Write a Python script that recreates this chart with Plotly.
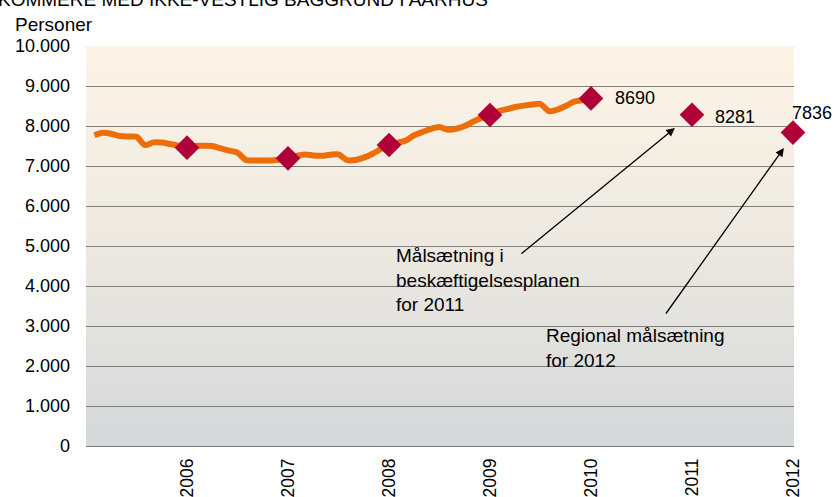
import plotly.graph_objects as go

# ---------------- data ----------------
start_year = 2005
month_index = list(range(1, 61))  # Jan 2005 .. Dec 2009 (monthly)
persons = [7770, 7830, 7805, 7750, 7735, 7730, 7525, 7590, 7585, 7550, 7510, 7458,
           7500, 7505, 7500, 7440, 7385, 7335, 7150, 7140, 7135, 7140, 7155, 7192,
           7250, 7290, 7265, 7255, 7280, 7290, 7150, 7150, 7210, 7300, 7420, 7525,
           7580, 7640, 7770, 7850, 7930, 7975, 7905, 7930, 8000, 8110, 8200, 8275,
           8370, 8420, 8475, 8510, 8535, 8550, 8370, 8410, 8500, 8610, 8650, 8690]

marker_years = [2006, 2007, 2008, 2009, 2010, 2011, 2012]
marker_values = [7458, 7192, 7525, 8275, 8690, 8281, 7836]

label_years = [2010, 2011, 2012]
label_values = [8690, 8281, 7836]

tick_years = [2006, 2007, 2008, 2009, 2010, 2011, 2012]
tick_labels = [str(y) for y in tick_years]

y_ticks = list(range(0, 10001, 1000))

title_text = "KOMMERE MED IKKE-VESTLIG BAGGRUND I AARHUS"
note_2011 = "Målsætning i<br>beskæftigelsesplanen<br>for 2011"
note_2012 = "Regional målsætning<br>for 2012"

line_x = [start_year + m / 12 for m in month_index]

FONT = "Liberation Sans, Arial, sans-serif"

fig = go.Figure()

fig.add_trace(go.Scatter(
    x=line_x, y=persons, mode="lines",
    line=dict(color="#EE6D0B", width=6, shape="spline", smoothing=0.8),
    hoverinfo="skip", showlegend=False))

fig.add_trace(go.Scatter(
    x=marker_years, y=marker_values, mode="markers",
    marker=dict(symbol="diamond", size=19, color="#B0003A"),
    cliponaxis=False, showlegend=False))

# ---------------- background gradient ----------------
def lerp(c1, c2, t):
    return tuple(round(a + (b - a) * t) for a, b in zip(c1, c2))

stops = [(0.0, (212, 216, 218)), (0.5, (237, 233, 225)), (1.0, (253, 244, 230))]
def grad(t):
    for (t0, c0), (t1, c1) in zip(stops[:-1], stops[1:]):
        if t <= t1:
            return lerp(c0, c1, (t - t0) / (t1 - t0))
    return stops[-1][1]

shapes = []
n = 100
for i in range(n):
    y0 = 10000 * i / n
    y1 = 10000 * (i + 1) / n
    c = grad((i + 0.5) / n)
    shapes.append(dict(type="rect", xref="paper", yref="y", x0=0, x1=1, y0=y0, y1=y1,
                       fillcolor="rgb(%d,%d,%d)" % c, line=dict(width=0), layer="below"))

annotations = []
# data labels
annotations.append(dict(x=label_years[0], y=label_values[0], text=str(label_values[0]),
                        xanchor="left", yanchor="middle", xshift=22, showarrow=False))
annotations.append(dict(x=label_years[1], y=label_values[1], text=str(label_values[1]),
                        xanchor="left", yanchor="middle", xshift=21, yshift=-2, showarrow=False))
annotations.append(dict(x=label_years[2], y=label_values[2], text=str(label_values[2]),
                        xanchor="left", yanchor="middle", xshift=-3, yshift=20, showarrow=False))

# arrows
annotations.append(dict(x=2010.83, y=7950, text="", showarrow=True, arrowhead=2,
                        arrowsize=1.3, arrowwidth=1.3, arrowcolor="black",
                        ax=-155, ay=127, standoff=0, startstandoff=0))
annotations.append(dict(x=2011.91, y=7450, text="", showarrow=True, arrowhead=2,
                        arrowsize=1.3, arrowwidth=1.3, arrowcolor="black",
                        ax=-119, ay=167, standoff=0, startstandoff=0))

# notes
annotations.append(dict(x=(394 - 86) / 708, y=(446 - 280) / 400, xref="paper", yref="paper",
                        text=note_2011, align="left", xanchor="left", yanchor="middle",
                        font=dict(size=19), showarrow=False))
annotations.append(dict(x=(544 - 86) / 708, y=(446 - 348) / 400, xref="paper", yref="paper",
                        text=note_2012, align="left", xanchor="left", yanchor="middle",
                        font=dict(size=19), showarrow=False))

# title (cut off at top) and axis unit
annotations.append(dict(x=(-4 - 86) / 708, y=(446 + 1) / 400, xref="paper", yref="paper",
                        text=title_text, xanchor="left", yanchor="middle",
                        font=dict(size=19), showarrow=False))
annotations.append(dict(x=(13 - 86) / 708, y=(446 - 24) / 400, xref="paper", yref="paper",
                        text="Personer", xanchor="left", yanchor="middle",
                        font=dict(size=19), showarrow=False))

fig.update_layout(
    width=834, height=497,
    margin=dict(l=86, r=40, t=46, b=51, autoexpand=False),
    paper_bgcolor="white", plot_bgcolor="white",
    font=dict(family=FONT, size=18, color="black"),
    separators=",.",
    shapes=shapes,
    annotations=annotations,
    showlegend=False,
    xaxis=dict(range=[2005, 2012.01], tickvals=tick_years, ticktext=tick_labels,
               tickangle=-90, showgrid=False, zeroline=False, showline=False,
               tickfont=dict(size=17.5),
               ticks="", ticklabelstandoff=8, fixedrange=True, automargin=False),
    yaxis=dict(range=[0, 10000], tickvals=y_ticks, tickformat=",d",
               showgrid=True, gridcolor="#7F7F7F", gridwidth=1,
               zeroline=True, zerolinecolor="#7F7F7F", zerolinewidth=1,
               showline=False, ticks="", ticklabelstandoff=15, fixedrange=True,
               automargin=False),
)

fig.write_html("out.html", config={"displayModeBar": False},
               post_script="document.body.style.margin='0';document.body.style.overflow='hidden';")
